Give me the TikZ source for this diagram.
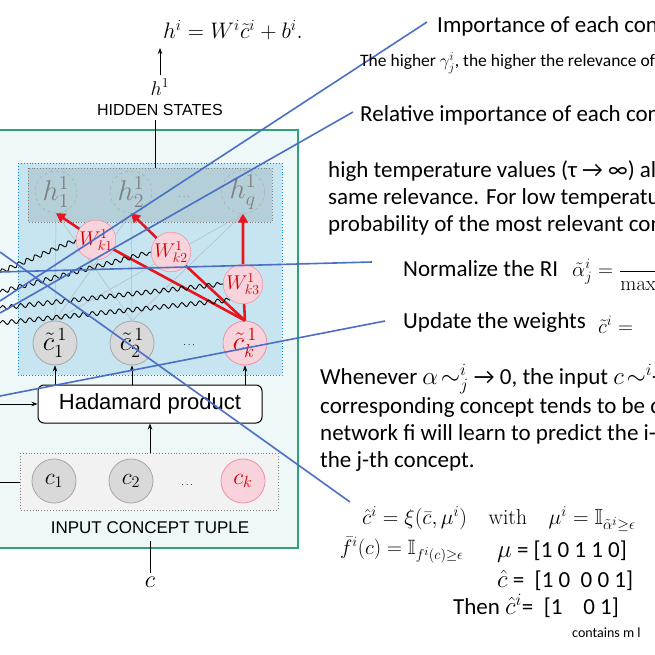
\documentclass[tikz,border=0pt]{standalone}
\usepackage{amsmath,amssymb,graphicx}
\usepackage[no-math]{fontspec}
\setmainfont{Carlito}
\newfontfamily\arialf{Liberation Sans}
\newcommand\Mth[2]{\scalebox{#1}{\fontsize{17.28}{17.28}\selectfont$#2$}}
\usetikzlibrary{decorations.pathmorphing,arrows.meta}
\definecolor{boxgreen}{HTML}{2EA37A}
\definecolor{boxfill}{HTML}{EEF8F8}
\definecolor{innerfill}{HTML}{C6E5F0}
\definecolor{hidfill}{HTML}{B4CFD8}
\definecolor{bl}{HTML}{4A6FC4}
\definecolor{pinkf}{HTML}{F9D3DC}
\definecolor{pinkd}{HTML}{E8607A}
\definecolor{redA}{HTML}{E8141E}
\begin{document}
\begin{tikzpicture}[x=1pt,y=-1pt,
  hn/.style={circle,draw=gray!70,dashed,minimum size=42pt,inner sep=0pt,text=gray},
  cn/.style={circle,draw=gray!70,fill=gray!30,minimum size=44pt,inner sep=0pt,line width=0.8pt},
  ck/.style={cn,draw=pinkd!70,fill=pinkf,text=red!80!black},
  wn/.style={circle,draw=pinkd!70,fill=pinkf,minimum size=30pt,inner sep=0pt,text=red!80!black},
  redar/.style={draw=redA,line width=2.6pt,-{Triangle[length=9pt,width=10pt]}},
  thin/.style={draw=gray!55,line width=0.5pt},
  wave/.style={decorate,decoration={snake,segment length=9pt,amplitude=2.2pt},line width=0.9pt},
  bline/.style={draw=bl,line width=1.6pt},
  big/.style={anchor=west,inner sep=0pt,font=\fontsize{23}{26}\selectfont},
  mth/.style={anchor=west,inner sep=0pt},
  arr/.style={-{Stealth[length=6pt]},line width=0.9pt}]
\useasboundingbox (0,0) rectangle (655,655);
\clip (0,0) rectangle (655,655);
\fill[white] (0,0) rectangle (655,655);
% top formula
\node (top) at (233,30) {\Mth{1.3}{h^i = W^i\tilde{c}^i + b^i.}};
\node (h1t) at (160,87) {\Mth{1.15}{h^1}};
\coordinate (tipT) at (160,48);
\draw[arr] (h1t.north) -- (tipT);
\node[font=\arialf\fontsize{16}{16}\selectfont] (hs) at (160,110) {HIDDEN STATES};
% green box
\draw[boxgreen,line width=1.4pt,fill=boxfill] (-5,130) rectangle (298,548);
\draw[cyan!70!blue,dotted,line width=0.9pt,fill=innerfill] (18,163) rectangle (282,375);
\draw[gray,dotted,line width=0.9pt,fill=hidfill] (28,168) rectangle (272,222);
\coordinate (hsb) at (155,168);
\draw[line width=0.9pt] (155,120) -- (hsb);
% hidden nodes
\node[hn] (h1) at (56,192) {\Mth{1.65}{h^1_1}};
\node[hn] (h2) at (131,192) {\Mth{1.65}{h^1_2}};
\node[hn] (hq) at (243,192) {\Mth{1.65}{h^1_q}};
\node[text=gray] (hd) at (185,197) {$\cdots$};
% c tilde nodes
\node[cn] (ct1) at (55,343) {\Mth{1.55}{\tilde{c}^{\,1}_1}};
\node[cn] (ct2) at (132,343) {\Mth{1.55}{\tilde{c}^{\,1}_2}};
\node[ck] (ctk) at (245,343) {\Mth{1.55}{\tilde{c}^{\,1}_k}};
\node (cd) at (190,345) {$\cdots$};
% thin connections
\foreach \a in {ct1,ct2}{\foreach \b in {h1,h2,hq}{\draw[thin] (\a.north) -- (\b.south);}}
% W nodes
\node[wn] (w1) at (96,240) {\Mth{1.15}{W^1_{k1}}};
\node[wn] (w2) at (171,252) {\Mth{1.15}{W^1_{k2}}};
\node[wn] (w3) at (243,284) {\Mth{1.15}{W^1_{k3}}};
\draw[redar] (ctk.north) -- (w1) -- (h1.south);
\draw[redar] (ctk.north) -- (w2) -- (h2.south);
\draw[redar] (ctk.north) -- (w3) -- (hq.south);
\node[wn] at (w1) {\Mth{1.15}{W^1_{k1}}};
\node[wn] at (w2) {\Mth{1.15}{W^1_{k2}}};
\node[wn] at (w3) {\Mth{1.15}{W^1_{k3}}};
% waves
\coordinate (wa) at (0,272); \coordinate (wb) at (0,292);
\coordinate (wc) at (0,308); \coordinate (wd) at (0,323);
\coordinate (w4e) at (230,300);
\draw[wave] (wa) -- (w1.west);
\draw[wave] (wb) -- (w2.west);
\draw[wave] (wc) -- (w3.west);
\draw[wave] (wd) -- (w4e);
% Hadamard
\node[draw,rounded corners=6pt,fill=white,line width=1pt,minimum width=224pt,minimum height=38pt,font=\arialf\fontsize{22}{22}\selectfont] (had) at (150,404) {Hadamard product};
\foreach \n in {ct1,ct2,ctk}{\draw[arr] (had.north -| \n) -- (\n.south);}
\coordinate (hl) at (0,404);
\draw[arr] (hl) -- (had.west);
% input
\draw[gray,dotted,line width=0.9pt,fill=gray!10] (20,453) rectangle (278,510);
\coordinate (inT) at (150,453);
\draw[arr] (inT) -- (had.south);
\node[cn] (c1) at (54,481) {\Mth{1.35}{c_1}};
\node[cn] (c2) at (131,481) {\Mth{1.35}{c_2}};
\node[ck] (ck) at (243,481) {\Mth{1.35}{c_k}};
\node at (188,485) {$\cdots$};
\coordinate (il) at (0,482); \coordinate (ir) at (20,482);
\draw[line width=0.9pt] (il) -- (ir);
\node[font=\arialf\fontsize{17}{17}\selectfont] (ict) at (150,528) {INPUT CONCEPT TUPLE};
\node (cin) at (150,582) {\Mth{1.4}{c}};
\draw[line width=0.9pt] (150,541) -- (cin.north);
% blue lines
\coordinate (b1s) at (0,301); \coordinate (b1e) at (427,22);
\coordinate (b2s) at (0,313); \coordinate (b2e) at (353,112);
\coordinate (b3s) at (0,272); \coordinate (b3e) at (372,262);
\coordinate (b4s) at (0,396); \coordinate (b4e) at (385,321);
\coordinate (b5s) at (0,252); \coordinate (b5e) at (350,502);
\foreach \i in {1,...,5}{\draw[bline] (b\i s) -- (b\i e);}
% right texts
\node[big] at (437,26) {Importance of each concept};
\node[anchor=west,inner sep=0pt,font=\fontsize{17.5}{19}\selectfont] at (360,63) {The higher $\gamma^i_j$, the higher the relevance of};
\node[big] at (360,115) {Relative importance of each concept};
\node[big] at (328,171) {high temperature values (τ \textrightarrow\ ∞) all};
\node[big] at (328,198) {same relevance. For low temperature};
\node[big] at (328,225) {probability of the most relevant concept};
\node[big] at (403,269) {Normalize the RI};
\node[mth] at (572,272) {\Mth{1.2}{\tilde{\alpha}^i_j = \dfrac{\phantom{xxx}}{\mathrm{max}}}};
\node[big] at (403,322) {Update the weights};
\node[mth] at (598,325) {\Mth{1.2}{\tilde{c}^i =}};
\node[big] at (320,379) {Whenever $\alpha\!\sim^i_j$ \textrightarrow\ 0, the input $c\!\sim^i$\textrightarrow};
\node[big] at (320,407) {corresponding concept tends to be d};
\node[big] at (320,434) {network fi will learn to predict the i-th};
\node[big] at (320,461) {the j-th concept.};
\node[mth] at (362,519) {\Mth{1.25}{\hat{c}^i = \xi(\bar{c},\mu^i)\quad\text{\fontfamily{cmr}\selectfont with}\quad \mu^i = \mathbb{I}_{\tilde{\alpha}^i\geq\epsilon}}};
\node[mth] at (340,550) {\Mth{1.2}{\bar{f}^i(c) = \mathbb{I}_{f^i(c)\geq\epsilon}}};
\node[big] at (497,552) {$\mu$ = [1 0 1 1 0]};
\node[big] at (497,580) {$\hat{c}$ =\ \ [1 0\ \ 0 0 1]};
\node[big] at (453,606) {Then $\hat{c}^i$= \ [1\ \ \ \ 0 1]};
\node[anchor=west,inner sep=0pt,font=\fontsize{14}{16}\selectfont] at (572,633) {contains m l};
\end{tikzpicture}
\end{document}
